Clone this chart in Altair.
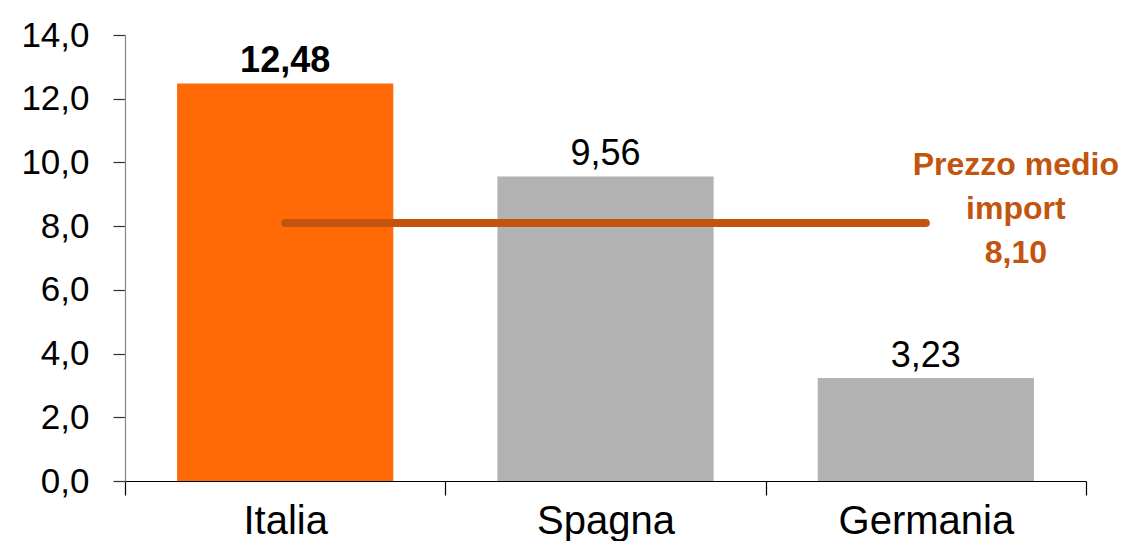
import altair as alt
import pandas as pd

paesi = ["Italia", "Spagna", "Germania"]
prezzi = [12.48, 9.56, 3.23]
prezzo_medio = 8.10
nota_righe = ["Prezzo medio", "import"]
y_ticks = [0, 2, 4, 6, 8, 10, 12, 14]

def it_num(v, d):
    return f"{v:.{d}f}".replace(".", ",")

df = pd.DataFrame({
    "paese": paesi,
    "prezzo": prezzi,
    "etichetta": [it_num(v, 2) for v in prezzi],
    "media": [prezzo_medio] * len(paesi),
})
df_nota = pd.DataFrame({
    "paese": [paesi[-1]],
    "media": [prezzo_medio],
    "testo": ["\n".join(nota_righe + [it_num(prezzo_medio, 2)])],
})

ORANGE = "#FF6A07"
GREY = "#B2B2B2"
BROWN = "#C2540E"
FONT = "Liberation Sans"

x_scale = alt.Scale(domain=paesi, paddingInner=0, paddingOuter=0)
y_scale = alt.Scale(domain=[0, 14], nice=False)

x_enc = alt.X("paese:N", sort=paesi, title=None, scale=x_scale,
              axis=alt.Axis(labelAngle=0, labelFontSize=40, labelFont=FONT,
                            labelColor="#000000", domainColor="#000000",
                            tickColor="#000000", tickSize=14, tickBand="extent",
                            labelPadding=6, domainWidth=1.2, tickWidth=1.2))

base = alt.Chart(df)

bars = base.mark_bar(width=alt.RelativeBandSize(0.675)).encode(
    x=x_enc,
    y=alt.Y("prezzo:Q", scale=y_scale, title=None,
            axis=alt.Axis(values=y_ticks, labelExpr="replace(format(datum.value, '.1f'), '.', ',')",
                          labelFontSize=35, labelFont=FONT, labelColor="#000000",
                          domainColor="#868686", tickColor="#333333", tickSize=12,
                          labelPadding=24, grid=False, domainWidth=1.2, tickWidth=1.2)),
    color=alt.condition(alt.datum.paese == paesi[0], alt.value(ORANGE), alt.value(GREY)),
)

lab_bold = base.transform_filter(alt.datum.paese == paesi[0]).mark_text(
    font=FONT, fontSize=36, fontWeight="bold", baseline="alphabetic", dy=-11, color="#000000"
).encode(x=alt.X("paese:N", sort=paesi, scale=x_scale), y=alt.Y("prezzo:Q", scale=y_scale), text="etichetta:N")

lab_norm = base.transform_filter(alt.datum.paese != paesi[0]).mark_text(
    font=FONT, fontSize=36, baseline="alphabetic", dy=-11, color="#000000"
).encode(x=alt.X("paese:N", sort=paesi, scale=x_scale), y=alt.Y("prezzo:Q", scale=y_scale), text="etichetta:N")

linea = base.mark_line(color=BROWN, strokeWidth=8, strokeCap="round").encode(
    x=alt.X("paese:N", sort=paesi, scale=x_scale), y=alt.Y("media:Q", scale=y_scale)
)

nota = alt.Chart(df_nota).mark_text(
    font=FONT, fontSize=32, fontWeight="bold", color=BROWN,
    lineBreak="\n", lineHeight=44, baseline="middle", align="center", dx=90, dy=-58
).encode(x=alt.X("paese:N", sort=paesi, scale=x_scale), y=alt.Y("media:Q", scale=y_scale), text="testo:N")

chart = alt.layer(bars, linea, lab_bold, lab_norm, nota).properties(
    width=961, height=446,
    autosize=alt.AutoSizeParams(type="none"),
    padding={"left": 117, "top": 27, "right": 40, "bottom": 60},
    background="#ffffff",
).configure_view(strokeWidth=0, stroke="transparent")

chart.save("out.html", embed_options={"renderer": "svg", "actions": False})
